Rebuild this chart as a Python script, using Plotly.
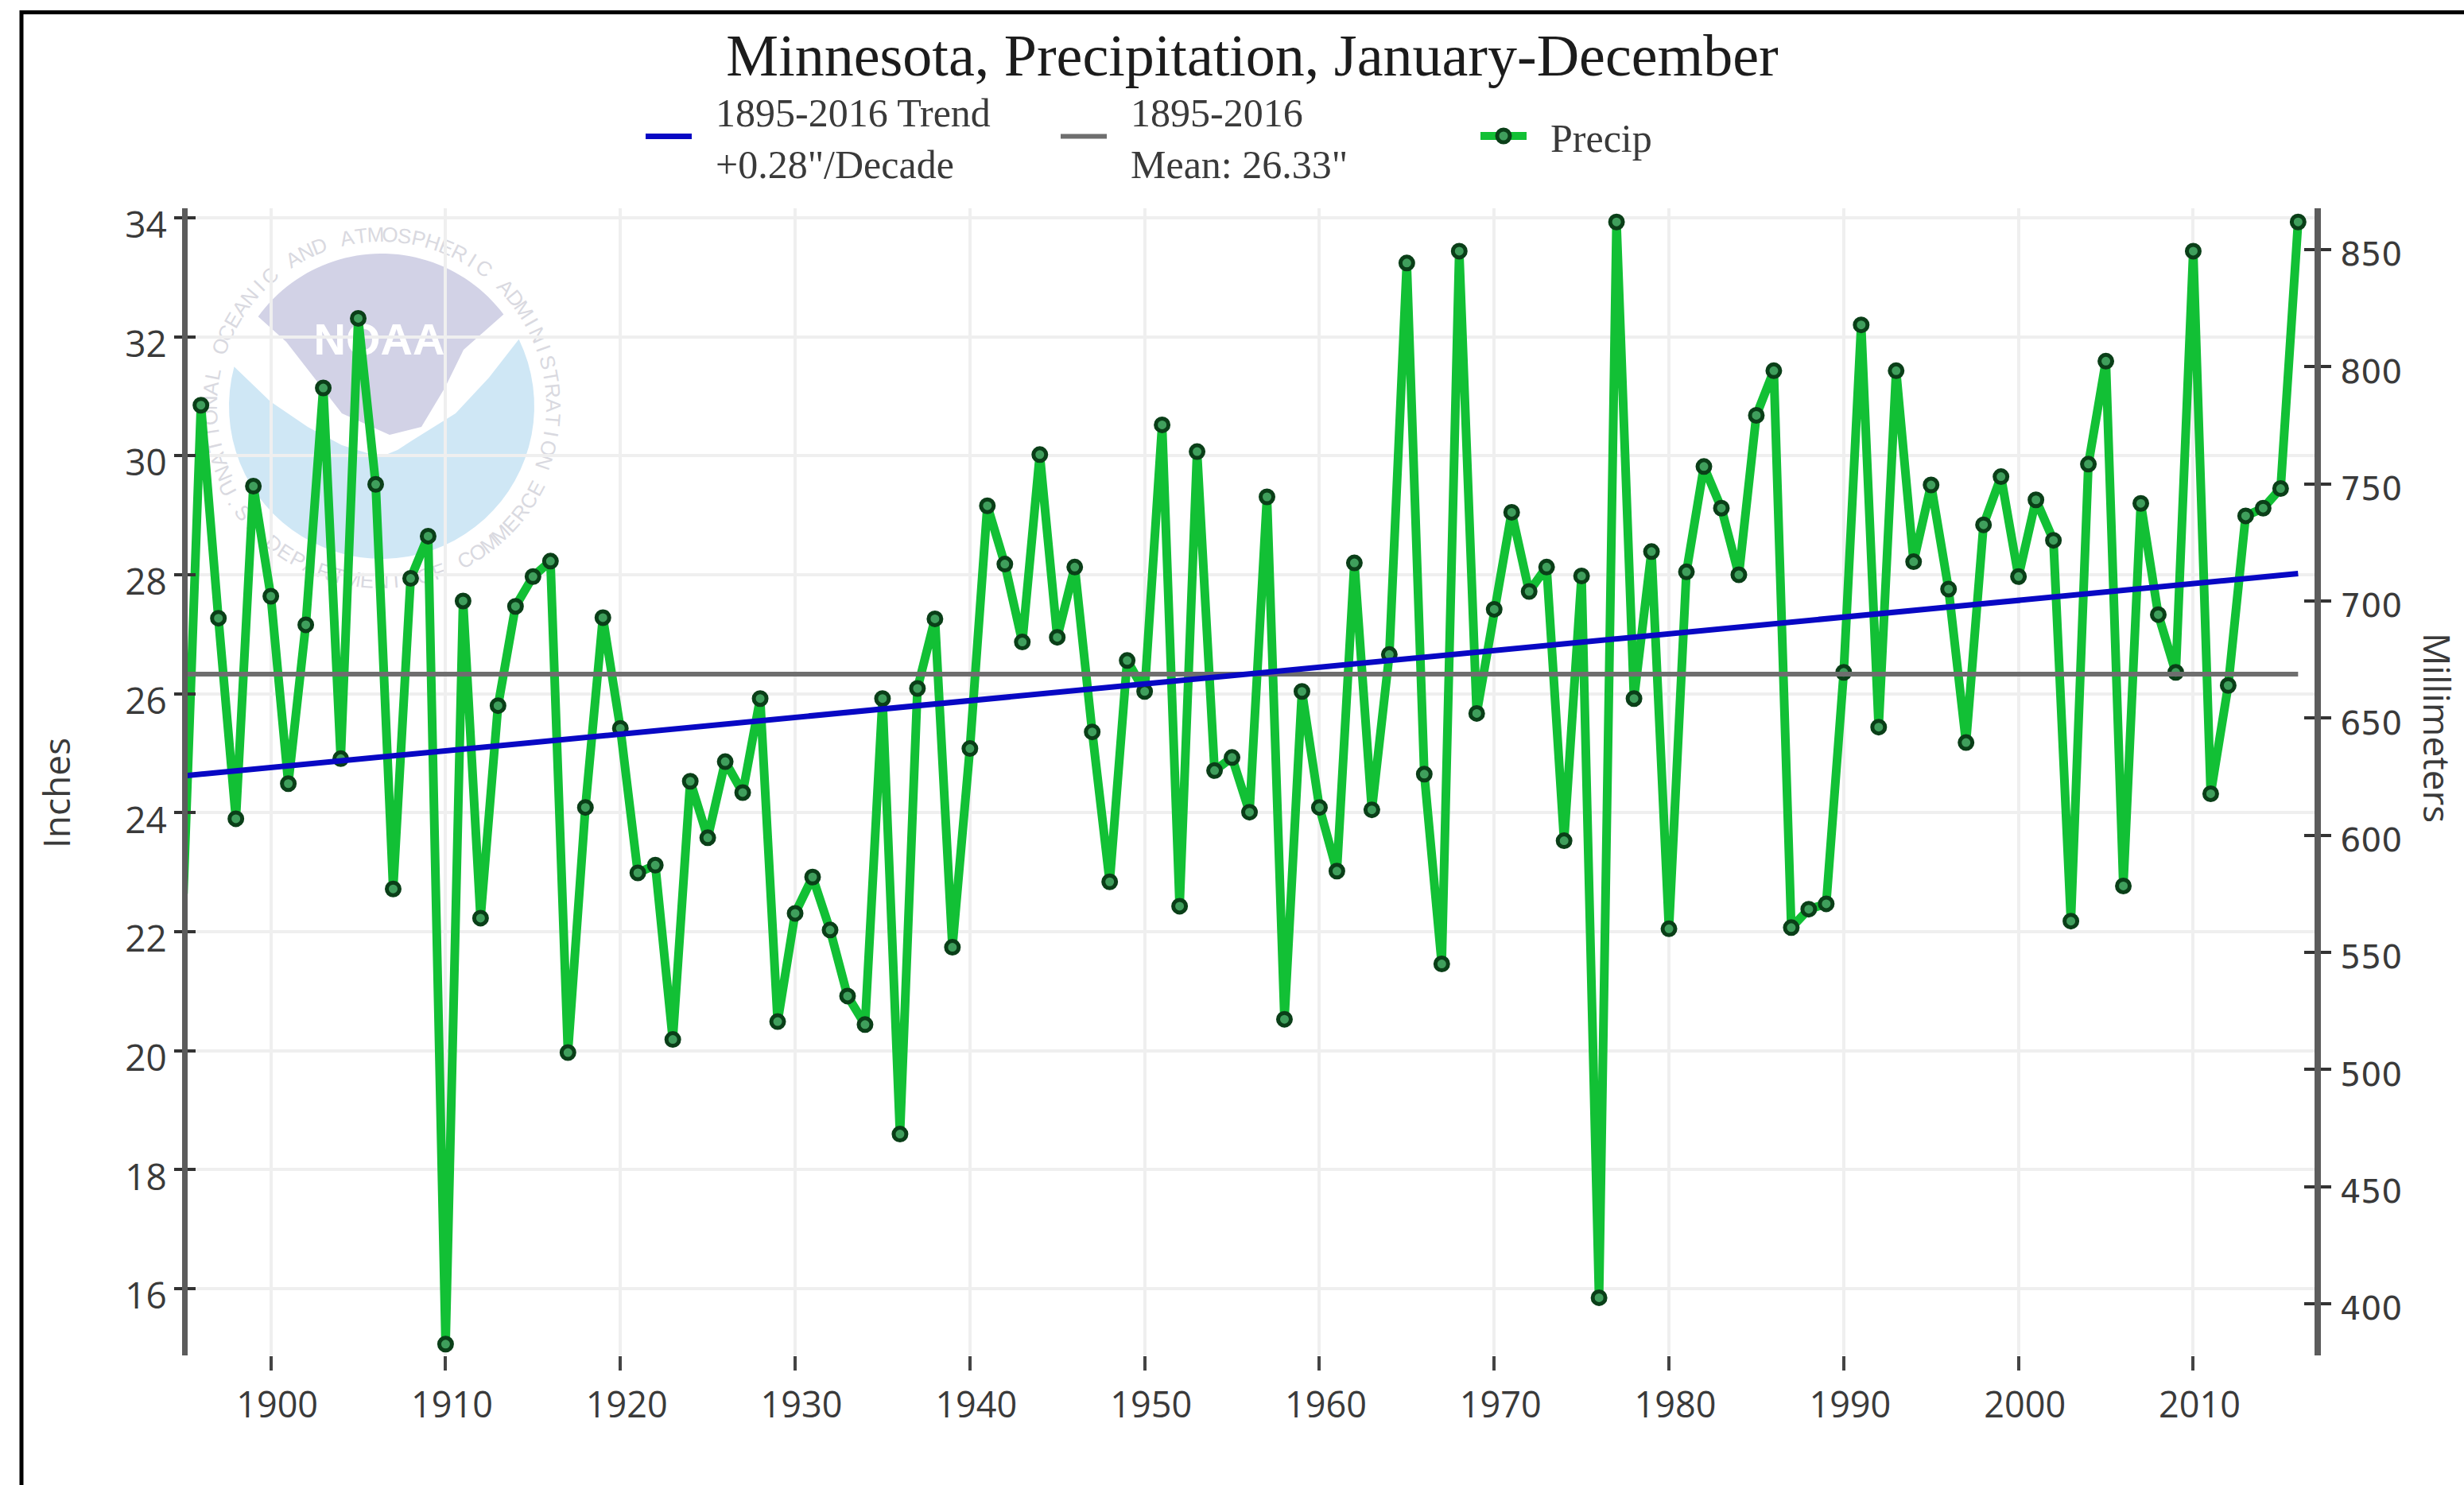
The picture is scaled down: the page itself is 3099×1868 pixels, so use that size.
import math
import plotly.graph_objects as go

TITLE = "Minnesota, Precipitation, January-December"
YEARS = list(range(1895, 2017))
PRECIP = [
    22.64, 30.85, 27.27, 23.90, 29.49, 27.64, 24.49, 27.16, 31.14, 24.91,
    32.31, 29.52, 22.72, 27.94, 28.65, 15.07, 27.56, 22.23, 25.80, 27.47,
    27.97, 28.23, 19.97, 24.09, 27.28, 25.42, 22.99, 23.12, 20.19, 24.53,
    23.58, 24.86, 24.34, 25.92, 20.49, 22.31, 22.92, 22.03, 20.92, 20.44,
    25.92, 18.60, 26.09, 27.26, 21.74, 25.08, 29.16, 28.18, 26.87, 30.02,
    26.95, 28.13, 25.36, 22.84, 26.56, 26.04, 30.52, 22.43, 30.07, 24.71,
    24.93, 24.01, 29.31, 20.53, 26.04, 24.09, 23.02, 28.20, 24.05, 26.66,
    33.24, 24.65, 21.46, 33.44, 25.67, 27.42, 29.05, 27.72, 28.13, 23.53,
    27.98, 15.85, 33.93, 25.92, 28.39, 22.05, 28.05, 29.82, 29.12, 28.00,
    30.68, 31.43, 22.07, 22.38, 22.47, 26.36, 32.20, 25.44, 31.43, 28.22,
    29.51, 27.76, 25.18, 28.84, 29.65, 27.97, 29.26, 28.58, 22.18, 29.86,
    31.59, 22.77, 29.20, 27.33, 26.36, 33.44, 24.32, 26.14, 28.99, 29.12,
    29.45, 33.93,
]
LINE_YEARS = [1895, 2016]
TREND = [24.62, 28.02]
MEAN = [26.33, 26.33]
X_TICKS = list(range(1900, 2011, 10))
Y_TICKS = list(range(16, 35, 2))
MM_TICKS = list(range(400, 851, 50))
NB = "\u00a0\u00a0"
TREND_NAME = NB + "1895-2016 Trend<br>" + NB + '+0.28"/Decade'
MEAN_NAME = NB + "1895-2016<br>" + NB + 'Mean: 26.33"'
PRECIP_NAME = NB + "Precip"
RING_TOP = "NATIONAL OCEANIC AND ATMOSPHERIC ADMINISTRATION"
RING_BOTTOM = "U.S. DEPARTMENT OF COMMERCE"

W, H = 3099, 1868
L, R, T, B = 236, 2911, 262, 1705
SANS = "Open Sans"
SERIF = "Liberation Serif"
TEXT = "#3a3a3a"
AXIS = "#5c5c5c"
GRID = "#efefef"
YR = [14.88, 34.16]
XR = [1895.24, 2016.94]


def X(p):
    return (p - L) / (R - L)


def Y(p):
    return (B - p) / (B - T)


def arc(cx, cy, r, a0, a1, n=48):
    return [(cx + r * math.cos(math.radians(a0 + (a1 - a0) * i / n)),
             cy + r * math.sin(math.radians(a0 + (a1 - a0) * i / n))) for i in range(n + 1)]


def poly(pts, fill):
    d = "M " + " L ".join(f"{X(x):.5f},{Y(y):.5f}" for x, y in pts) + " Z"
    return dict(type="path", xref="paper", yref="paper", path=d, fillcolor=fill,
                line=dict(width=0), layer="below")


def letter(ch, x, y, angle, size=26, color="#d9d9e0"):
    return dict(type="rect", xref="paper", yref="paper", x0=X(x - 1), x1=X(x + 1), y0=Y(y + 1), y1=Y(y - 1),
                line=dict(width=0), fillcolor="rgba(0,0,0,0)", layer="below",
                label=dict(text=ch, textangle=angle, textposition="middle center",
                           font=dict(family="Liberation Sans", size=size, color=color)))


CX, CY, CR = 480, 511, 192
shapes = [
    dict(type="line", xref="paper", yref="paper", x0=X(27), x1=X(W), y0=Y(15.5), y1=Y(15.5),
         line=dict(color="black", width=5), layer="above"),
    dict(type="line", xref="paper", yref="paper", x0=X(27), x1=X(27), y0=Y(13), y1=Y(H),
         line=dict(color="black", width=5), layer="above"),
]
purple = arc(CX, CY, CR, -144, -37) + [(583, 440), (560, 487), (530, 537), (490, 547), (430, 520), (360, 430)]
shapes.append(poly(purple, "#d2d2e6"))
blue = arc(CX, CY, CR, -26, 195) + [(340, 505), (387, 537), (430, 560), (478, 575), (500, 566), (520, 553), (573, 520), (615, 475)]
shapes.append(poly(blue, "#cfe7f5"))

ring_r = 218
n = len(RING_TOP)
for i, ch in enumerate(RING_TOP):
    if ch == " ":
        continue
    th = -113 + 222 * i / (n - 1)
    x = CX + ring_r * math.sin(math.radians(th))
    y = CY - ring_r * math.cos(math.radians(th))
    shapes.append(letter(ch, x, y, th))
n = len(RING_BOTTOM)
for i, ch in enumerate(RING_BOTTOM):
    if ch == " ":
        continue
    th = -62 + 124 * i / (n - 1)
    x = CX + ring_r * math.sin(math.radians(th))
    y = CY + ring_r * math.cos(math.radians(th))
    shapes.append(letter(ch, x, y, -th))
shapes.append(letter("<b>NOAA</b>", 477, 421, 0, size=56, color="#ffffff"))

hidden = dict(mode="lines", line=dict(width=0), opacity=0, hoverinfo="skip", showlegend=False)


def legend_at(px, py):
    return dict(x=X(px), y=Y(py), xanchor="left", yanchor="top", itemwidth=58,
                font=dict(family=SERIF, size=50, color=TEXT), bgcolor="rgba(0,0,0,0)")


fig = go.Figure()
fig.add_trace(go.Scatter(
    x=YEARS, y=PRECIP, name=PRECIP_NAME, mode="lines+markers", legend="legend3", cliponaxis=False,
    line=dict(color="#12c035", width=11),
    marker=dict(size=16, color="#3f9f5c", line=dict(color="#0a3f18", width=5)),
))
fig.add_trace(go.Scatter(x=LINE_YEARS, y=MEAN, name=MEAN_NAME, mode="lines", legend="legend2", cliponaxis=True,
                         line=dict(color="#6e6e6e", width=6)))
fig.add_trace(go.Scatter(x=LINE_YEARS, y=TREND, name=TREND_NAME, mode="lines", legend="legend", cliponaxis=True,
                         line=dict(color="#0808c4", width=7)))
fig.add_trace(go.Scatter(x=YEARS, y=[v * 25.4 for v in PRECIP], yaxis="y2", **hidden))
fig.add_trace(go.Scatter(x=YEARS, y=PRECIP, yaxis="y3", **hidden))
fig.add_trace(go.Scatter(x=YEARS, y=[v * 25.4 for v in PRECIP], yaxis="y4", **hidden))

fig.update_layout(
    width=W, height=H, autosize=False,
    margin=dict(l=L, r=W - R, t=T, b=H - B, pad=0),
    paper_bgcolor="white", plot_bgcolor="rgba(0,0,0,0)",
    title=dict(text=TITLE, x=1575 / W, xanchor="center", y=1 - 69 / H, yanchor="middle",
               font=dict(family=SERIF, size=74, color="#1c1c1c")),
    showlegend=True,
    legend=legend_at(807, 100),
    legend2=legend_at(1329, 100),
    legend3=legend_at(1857, 132),
    xaxis=dict(range=XR, automargin=False, tickmode="array", tickvals=X_TICKS, ticktext=[str(v) for v in X_TICKS],
               ticks="outside", ticklen=18, tickwidth=4, tickcolor="#444444",
               ticklabelshift=8, ticklabelstandoff=5, showline=False, zeroline=False,
               showgrid=True, gridcolor=GRID, gridwidth=4,
               tickfont=dict(family=SANS, size=45, color=TEXT)),
    yaxis=dict(range=YR, automargin=False, tickmode="array", tickvals=Y_TICKS, ticktext=[str(v) for v in Y_TICKS],
               ticks="outside", ticklen=10, tickwidth=4, tickcolor="#333333",
               ticklabelshift=9, ticklabelstandoff=0, showline=True, linecolor=AXIS, linewidth=7,
               zeroline=False, showgrid=True, gridcolor=GRID, gridwidth=4,
               tickfont=dict(family=SANS, size=46, color=TEXT)),
    yaxis2=dict(range=[v * 25.4 for v in YR], automargin=False, overlaying="y", side="right", tickmode="array",
                tickvals=MM_TICKS, ticktext=[str(v) for v in MM_TICKS],
                ticks="outside", ticklen=13, tickwidth=4, tickcolor="#333333",
                ticklabelshift=6, ticklabelstandoff=3, showline=True, linecolor=AXIS, linewidth=8,
                showgrid=False, zeroline=False,
                tickfont=dict(family="DejaVu Sans", size=41, color=TEXT)),
    yaxis3=dict(range=YR, automargin=False, overlaying="y", side="left", tickmode="array", tickvals=Y_TICKS,
                ticks="inside", ticklen=10, tickwidth=4, tickcolor="#333333", showticklabels=False,
                showgrid=False, zeroline=False),
    yaxis4=dict(range=[v * 25.4 for v in YR], automargin=False, overlaying="y", side="right", tickmode="array",
                tickvals=MM_TICKS, ticks="inside", ticklen=13, tickwidth=4, tickcolor="#333333",
                showticklabels=False, showgrid=False, zeroline=False),
    annotations=[
        dict(text="Inches", xref="paper", yref="paper", x=X(70), y=Y(998), showarrow=False, textangle=-90,
             xanchor="center", yanchor="middle", font=dict(family=SANS, size=46, color=TEXT)),
        dict(text="Millimeters", xref="paper", yref="paper", x=X(3066), y=Y(915), showarrow=False, textangle=90,
             xanchor="center", yanchor="middle", font=dict(family=SANS, size=46, color=TEXT)),
    ],
    shapes=shapes,
)

fig.write_html("out.html", config={"displayModeBar": False}, post_script="document.body.style.margin='0';")
